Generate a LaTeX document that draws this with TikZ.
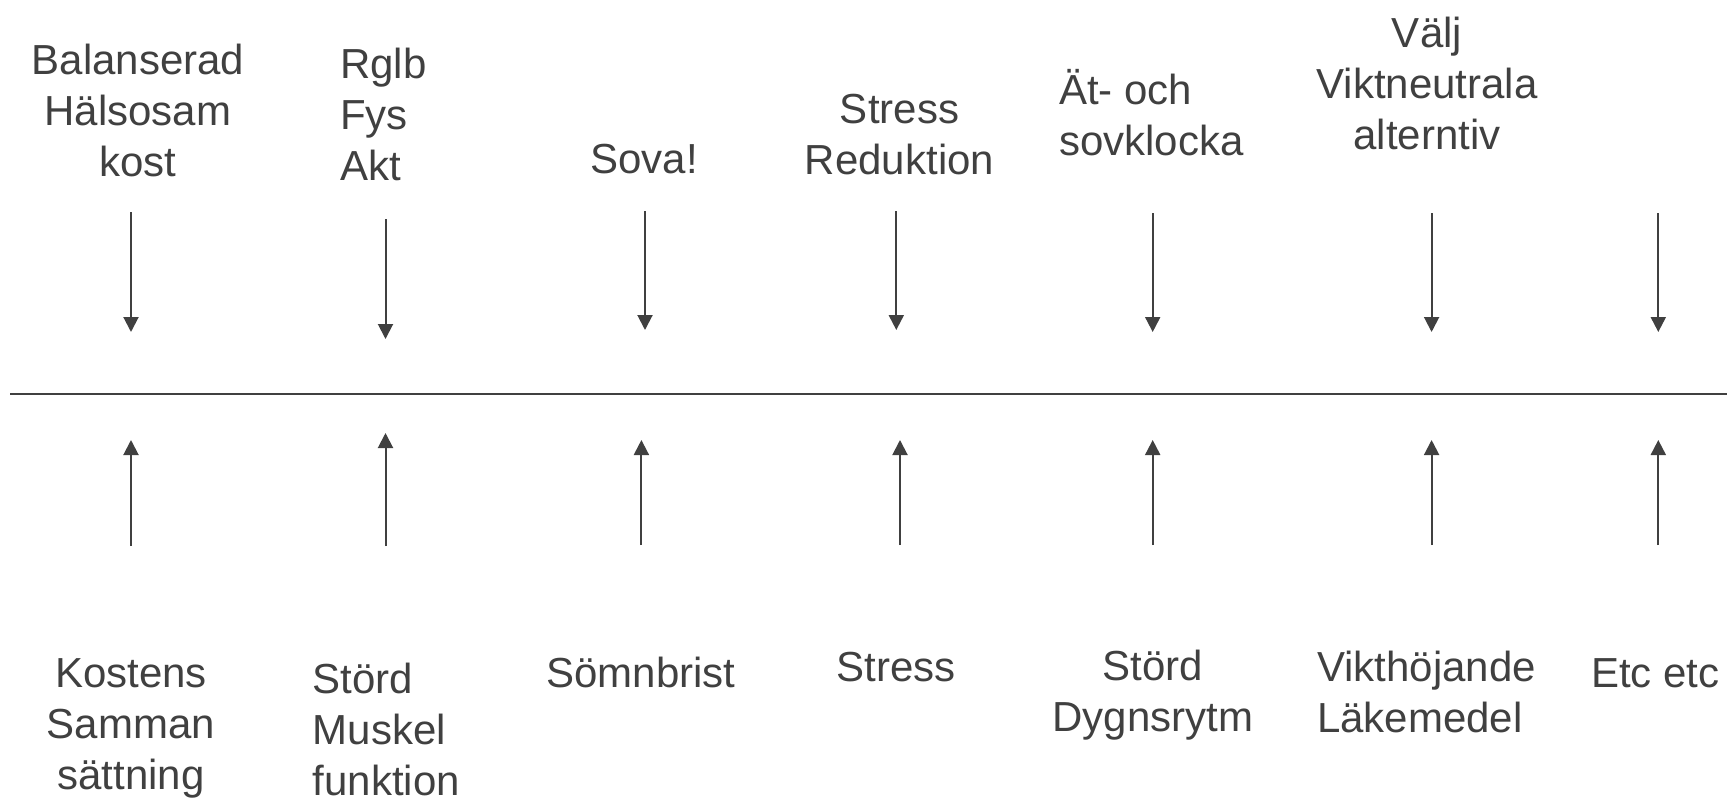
\documentclass[tikz,border=0pt]{standalone}
\usepackage{fontspec}
\setmainfont{Liberation Sans}
\usetikzlibrary{arrows.meta}
\definecolor{ink}{RGB}{64,64,64}
\tikzset{
  lbl/.style={font=\fontsize{42}{51}\selectfont, inner sep=0pt, text=ink, yshift=35.7pt},
  lblc/.style={lbl, anchor=north, align=center},
  lbll/.style={lbl, anchor=north west, align=left},
  arr/.style={draw=ink, line width=2pt, -{Triangle[width=15pt,length=15pt]}},
  rule/.style={draw=ink, line width=2pt}
}
\begin{document}
\begin{tikzpicture}[x=1pt,y=-1pt]
\useasboundingbox (0,0) rectangle (1727,798);
% top labels
\node[lblc] (t1) at (138,74) {\strut Balanserad\\\strut Hälsosam\\\strut kost};
\node[lbll] (t2) at (340,78) {\strut Rglb\\\strut Fys\\\strut Akt};
\node[lblc] (t3) at (644,173) {\strut Sova!};
\node[lblc] (t4) at (899.5,123) {\strut Stress\\\strut Reduktion};
\node[lbll] (t5) at (1059,104) {\strut Ät- och\\\strut sovklocka};
\node[lblc] (t6) at (1427,47) {\strut Välj\\\strut Viktneutrala\\\strut alterntiv};
% bottom labels
\node[lblc] (b1) at (131,687) {\strut Kostens\\\strut Samman\\\strut sättning};
\node[lbll] (b2) at (312.5,693) {\strut Störd\\\strut Muskel\\\strut funktion};
\node[lblc] (b3) at (641,687) {\strut Sömnbrist};
\node[lblc] (b4) at (896,681) {\strut Stress};
\node[lblc] (b5) at (1153,680) {\strut Störd\\\strut Dygnsrytm};
\node[lbll] (b6) at (1317,681) {\strut Vikthöjande\\\strut Läkemedel};
\node[lbll] (b7) at (1591,687) {\strut Etc etc};
% horizontal line
\coordinate (hl) at (10,394);
\coordinate (hr) at (1727,394);
\draw[rule] (hl) -- (hr);
% down arrows
\foreach \i/\x/\a/\b in {1/131/212/332, 2/385.5/219/339, 3/645/211/330, 4/896.3/211/330, 5/1152.7/213/332, 6/1431.6/213/332, 7/1658.3/213/332}{
  \coordinate (ds\i) at (\x,\a);
  \coordinate (de\i) at (\x,\b);
  \draw[arr] (ds\i) -- (de\i);
}
% up arrows
\foreach \i/\x/\a/\b in {1/131/546/440, 2/385.5/546/433, 3/641.4/545/440, 4/900/545/440, 5/1152.7/545/440, 6/1431.6/545/440, 7/1658.3/545/440}{
  \coordinate (us\i) at (\x,\a);
  \coordinate (ue\i) at (\x,\b);
  \draw[arr] (us\i) -- (ue\i);
}
\end{tikzpicture}
\end{document}
